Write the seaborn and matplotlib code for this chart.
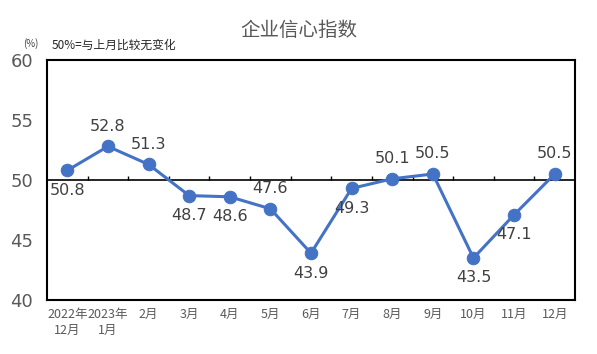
import matplotlib
matplotlib.use("Agg")
import matplotlib.pyplot as plt
import seaborn as sns
import pandas as pd
import numpy as np

# 数据
months = ["2022年\n12月", "2023年\n1月", "2月", "3月", "4月", "5月", "6月",
          "7月", "8月", "9月", "10月", "11月", "12月"]
values = [50.8, 52.8, 51.3, 48.7, 48.6, 47.6, 43.9, 49.3, 50.1, 50.5, 43.5, 47.1, 50.5]
label_pos = ["below", "above", "above", "below", "below", "above", "below",
             "below", "above", "above", "below", "below", "above"]

df = pd.DataFrame({"x": range(len(values)), "v": values})

sns.set_style("white")
plt.rcParams['font.family'] = ['Noto Sans CJK SC', 'DejaVu Sans']

fig = plt.figure(figsize=(5.97, 3.54), dpi=100)
ax = fig.add_axes([47 / 597, 1 - 300 / 354, 528 / 597, 240 / 354])

color = "#4472C4"
sns.lineplot(data=df, x="x", y="v", ax=ax, color=color, linewidth=2.2,
             marker="o", markersize=9, markeredgecolor=color, markerfacecolor=color)

# 50% 基准线及分类间刻度
ax.axhline(50, color="black", linewidth=1.2, zorder=1)
ax.vlines(np.arange(0.5, len(values) - 0.5), 50, 50.35, color="black", linewidth=1, zorder=1)

for i, (v, p) in enumerate(zip(values, label_pos)):
    dy = 9 if p == "above" else -9
    ax.annotate(f"{v:.1f}", (i, v), xytext=(0, dy), textcoords="offset points",
                ha="center", va="bottom" if p == "above" else "top",
                fontsize=11.5, color="#404040", family="DejaVu Sans")

ax.set_xlim(-0.5, len(values) - 0.5)
ax.set_ylim(40, 60)
ax.set_yticks([40, 45, 50, 55, 60])
ax.set_xticks(range(len(values)))
ax.set_xticklabels(months, fontsize=9, color="#595959", linespacing=1.3)
ax.tick_params(axis="y", labelsize=13, colors="#595959", length=4, width=1.2,
               direction="in", pad=10)
ax.tick_params(axis="y", which="both", color="black")
ax.tick_params(axis="x", length=0, pad=6)
for lbl in ax.get_yticklabels():
    lbl.set_family("DejaVu Sans")
    lbl.set_color("#595959")
ax.set_xlabel("")
ax.set_ylabel("")
for s in ax.spines.values():
    s.set_color("black")
    s.set_linewidth(1.5)

fig.text(0.5, 1 - 30 / 354, "企业信心指数", ha="center", va="center",
         fontsize=14, color="#595959")
fig.text(23 / 597, 1 - 44 / 354, "(%)", ha="left", va="center",
         fontsize=7, color="#404040")
fig.text(52 / 597, 1 - 45 / 354, "50%=与上月比较无变化", ha="left", va="center",
         fontsize=8.5, color="#262626")

fig.savefig("out.png", dpi=100)
